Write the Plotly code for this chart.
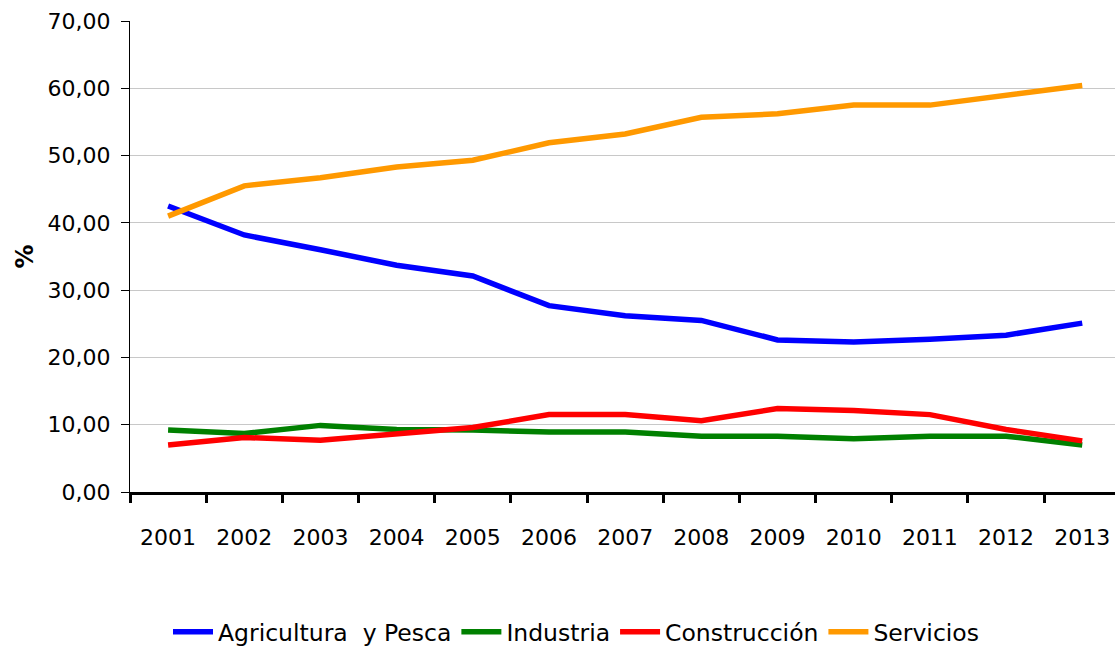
import plotly.graph_objects as go

years = [2001, 2002, 2003, 2004, 2005, 2006, 2007, 2008, 2009, 2010, 2011, 2012, 2013]
agricultura = [42.5, 38.2, 36.0, 33.7, 32.1, 27.7, 26.2, 25.5, 22.6, 22.3, 22.7, 23.3, 25.1]
industria = [9.2, 8.7, 9.9, 9.3, 9.2, 8.9, 8.9, 8.3, 8.3, 7.9, 8.3, 8.3, 7.0]
construccion = [7.0, 8.1, 7.7, 8.6, 9.6, 11.5, 11.5, 10.6, 12.4, 12.1, 11.5, 9.3, 7.6]
servicios = [41.0, 45.5, 46.7, 48.3, 49.3, 51.9, 53.2, 55.7, 56.2, 57.5, 57.5, 59.0, 60.4]

series = [
    ("Agricultura\u00a0 y Pesca", agricultura, "#0000FF"),
    ("Industria", industria, "#008000"),
    ("Construcción", construccion, "#FF0000"),
    ("Servicios", servicios, "#FF9900"),
]

font_family = "DejaVu Sans, sans-serif"

fig = go.Figure()
for name, vals, color in series:
    fig.add_trace(go.Scatter(
        x=years, y=vals, name=name, mode="lines",
        line=dict(color=color, width=5.5),
    ))

fig.update_layout(
    width=1115, height=646,
    paper_bgcolor="white", plot_bgcolor="white",
    margin=dict(l=130, r=0, t=21, b=154),
    font=dict(family=font_family, size=21, color="#000000"),
    showlegend=True,
    legend=dict(
        orientation="h",
        xref="container", x=576 / 1115, xanchor="center",
        yref="container", y=1 - 632 / 646, yanchor="middle",
        font=dict(size=23.5), itemwidth=40, tracegroupgap=0,
    ),
)

fig.update_xaxes(
    range=[2000.5, 2013.43],
    tickmode="array", tickvals=years, ticktext=[str(y) for y in years],
    ticks="", showgrid=False,
    showline=True, linecolor="#000000", linewidth=3,
    ticklabelstandoff=24,
    minor=dict(tick0=2000.5, dtick=1, ticks="outside", ticklen=8, tickwidth=3,
               tickcolor="#000000", showgrid=False),
    tickfont=dict(size=22),
    zeroline=False,
)

fig.update_yaxes(
    range=[0, 70], tickmode="array",
    tickvals=[0, 10, 20, 30, 40, 50, 60, 70],
    ticktext=["0,00", "10,00", "20,00", "30,00", "40,00", "50,00", "60,00", "70,00"],
    showgrid=True, gridcolor="#C8C8C8", gridwidth=1,
    showline=True, linecolor="#000000", linewidth=1,
    ticks="outside", ticklen=8, tickcolor="#000000",
    ticklabelstandoff=6,
    zeroline=False,
    title=dict(text="<b>%</b>", font=dict(size=24), standoff=7),
    tickfont=dict(size=22),
)

fig.write_html(
    "out.html",
    config={"displayModeBar": False},
    post_script="document.body.style.margin='0';document.body.style.overflow='hidden';",
)
